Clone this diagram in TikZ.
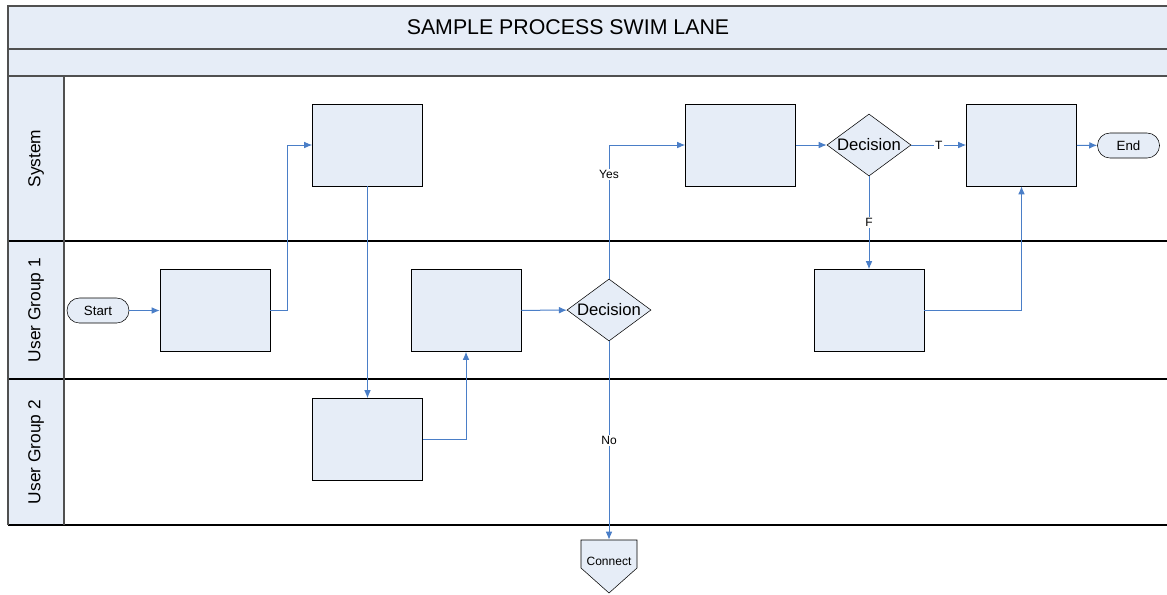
\documentclass[tikz,border=0pt]{standalone}
\usepackage{fontspec}
\setmainfont{Liberation Sans}
\usetikzlibrary{arrows, arrows.meta, positioning, calc, shapes.geometric}
\definecolor{lanefill}{HTML}{E6EDF7}
\definecolor{flowblue}{HTML}{4A7EC7}
\definecolor{framegray}{HTML}{505050}

\begin{document}
\begin{tikzpicture}[x=0.75pt,y=-0.75pt,>={Latex[length=6pt,width=5pt]},
    task node/.style={rectangle,draw,fill=lanefill,minimum width=82.5pt,minimum height=61.5pt,inner sep=0pt},
    decision node/.style={diamond,draw,fill=lanefill,minimum width=63pt,minimum height=46.5pt,
      inner sep=0pt,shape aspect=1.35,font=\fontsize{12.5}{14}\selectfont},
    term node/.style={rectangle,rounded corners=9.3pt,draw,fill=lanefill,minimum width=46.5pt,
      minimum height=18.75pt,inner sep=0pt,font=\fontsize{10}{12}\selectfont},
    lane label/.style={rotate=90,font=\fontsize{13}{15}\selectfont},
    flow/.style={->,draw=flowblue,line width=0.75pt}]
  \clip (0,0) rectangle (1167,594);
  \useasboundingbox (0,0) rectangle (1167,594);
  % frame and lanes
  \fill[lanefill] (8,6) rectangle (1175,76);
  \fill[lanefill] (8,76) rectangle (64,525);
  \draw[black, line width=0.9pt] (8,241) -- (1175,241) (8,379) -- (1175,379) (8,525) -- (1175,525);
  \draw[framegray, line width=1.2pt] (1175,6) -- (8,6) -- (8,525) (8,49) -- (1175,49)
    (8,76) -- (1175,76) (64,76) -- (64,525);
  \node[font=\fontsize{16}{18}\selectfont] (title) at (568,27) {SAMPLE PROCESS SWIM LANE};
  \node[lane label] (sys) at (36,158.5) {System};
  \node[lane label] (ug1) at (36,310) {User Group 1};
  \node[lane label] (ug2) at (36,452) {User Group 2};
  % steps
  \node[term node] (start) at (98,310.5) {Start};
  \node[task node] (u1a) at (215,310.5) {};
  \node[task node] (s1) at (367.5,145) {};
  \node[task node] (u2a) at (367.5,439.5) {};
  \node[task node] (u1b) at (466,310.5) {};
  \node[decision node] (d1) at (609,310) {Decision};
  \node[task node] (s2) at (740.5,145) {};
  \node[decision node] (d2) at (869,145) {Decision};
  \node[task node] (s3) at (1021.5,145) {};
  \node[task node] (u1c) at (869,310.5) {};
  \node[term node] (end) at (1128.5,145.5) {End};
  \coordinate (cn) at (609,540);
  \draw[fill=lanefill] (cn) ++(-28,0) -- ++(56,0) -- ++(0,28) -- ++(-28,25) -- ++(-28,-25) -- cycle;
  \node[minimum width=42pt, minimum height=31.5pt, inner sep=0pt,
    font=\fontsize{9}{11}\selectfont] (connect) at (609,561) {Connect};
  % connectors
  \path[every edge/.style={flow},
    every node/.style={fill=white, inner sep=1pt, font=\fontsize{9}{11}\selectfont}]
    (start) edge (u1a)
    (s1) edge (u2a)
    (u1b) edge (d1)
    (d1) edge node {No} (connect)
    (s2) edge (d2)
    (d2) edge node {T} (s3)
    (d2) edge node {F} (u1c)
    (s3) edge (end);
  \draw[flow] (u1a.east) -- ++(17,0) |- (s1.west);
  \draw[flow] (u2a.east) -| (u1b.south);
  \draw[flow] (d1.north) |- node[pos=0.39, fill=white, inner sep=1pt, font=\fontsize{9}{11}\selectfont] {Yes} (s2.west);
  \draw[flow] (u1c.east) -| (s3.south);
\end{tikzpicture}
\end{document}
